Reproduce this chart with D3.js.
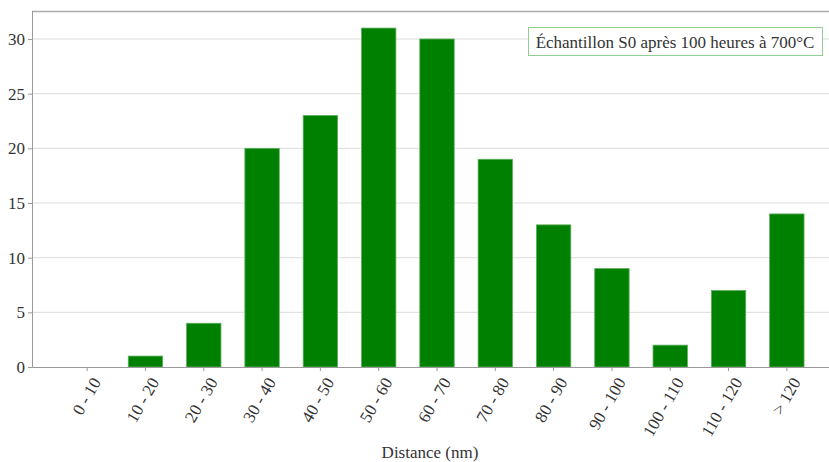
<!DOCTYPE html>
<html><head><meta charset="utf-8">
<script src="https://cdn.jsdelivr.net/npm/d3@7"></script>
<style>
body{margin:0;background:#fff;}
svg text{font-family:"Liberation Serif","DejaVu Serif",serif !important;fill:#333;}
</style></head>
<body><svg id="c" width="829" height="462"></svg>
<script>
const categories = ["0 - 10","10 - 20","20 - 30","30 - 40","40 - 50","50 - 60","60 - 70","70 - 80","80 - 90","90 - 100","100 - 110","110 - 120","> 120"];
const counts = [0,1,4,20,23,31,30,19,13,9,2,7,14];
const yTicks = [0,5,10,15,20,25,30];
const legendLabel = "Échantillon S0 après 100 heures à 700°C";
const xTitle = "Distance (nm)";

const svg = d3.select("#c");
const mLeft = 32, mRight = 829, mTop = 11, mBottom = 367;
const y = d3.scaleLinear().domain([0,30]).range([mBottom,39]);
const x = d3.scaleBand().domain(categories).range([58,816]).paddingInner(0.41).paddingOuter(0.205);

// grid
svg.append("g").selectAll("line").data(yTicks.filter(d=>d>0)).join("line")
  .attr("x1",mLeft).attr("x2",mRight).attr("y1",d=>y(d)).attr("y2",d=>y(d))
  .attr("stroke","#ddd").attr("stroke-width",1);
// top border
svg.append("line").attr("x1",mLeft).attr("x2",mRight).attr("y1",mTop+0.5).attr("y2",mTop+0.5).attr("stroke","#aaa").attr("stroke-width",1.5);

// bars
svg.append("g").selectAll("rect").data(counts).join("rect")
  .attr("x",(d,i)=>x(categories[i])).attr("width",x.bandwidth())
  .attr("y",d=>y(d)).attr("height",d=>mBottom-y(d))
  .attr("fill","#008000").attr("stroke","#5fae5f").attr("stroke-width",0.8)
  .style("display",d=>d>0?null:"none");

// y axis
const ya = svg.append("g").attr("transform",`translate(${mLeft},0)`)
  .call(d3.axisLeft(y).tickValues(yTicks).tickSize(4).tickPadding(3));
ya.attr("font-family",null).attr("font-size",null);
ya.select(".domain").remove();
ya.selectAll("line").attr("stroke","#999");
ya.selectAll("text").style("font-size","17px").attr("fill","#333");
svg.append("line").attr("x1",mLeft+0.5).attr("x2",mLeft+0.5).attr("y1",mTop).attr("y2",mBottom).attr("stroke","#999");

// x axis
const xa = svg.append("g").attr("transform",`translate(0,${mBottom})`)
  .call(d3.axisBottom(x).tickSize(4).tickSizeOuter(0));
xa.attr("font-family",null).attr("font-size",null);
xa.select(".domain").attr("d",`M${mLeft},0.5H${mRight}`).attr("stroke","#999");
xa.selectAll("line").attr("stroke","#999");
xa.selectAll("text").style("font-size","17px").attr("fill","#333")
  .attr("text-anchor","end").attr("dy",null).attr("y",0)
  .attr("transform","translate(11,13) rotate(-60)").attr("dominant-baseline","middle");

svg.append("text").attr("x",430).attr("y",458).attr("text-anchor","middle")
  .style("font-size","17px").text(xTitle);

// legend
const lg = svg.append("g");
lg.append("rect").attr("x",528.5).attr("y",27.5).attr("width",294).attr("height",28)
  .attr("fill","#fff").attr("stroke","#8fcf8f").attr("stroke-width",1);
lg.append("text").attr("x",675).attr("y",47.5).attr("text-anchor","middle")
  .style("font-size","17px").text(legendLabel);
</script></body></html>
